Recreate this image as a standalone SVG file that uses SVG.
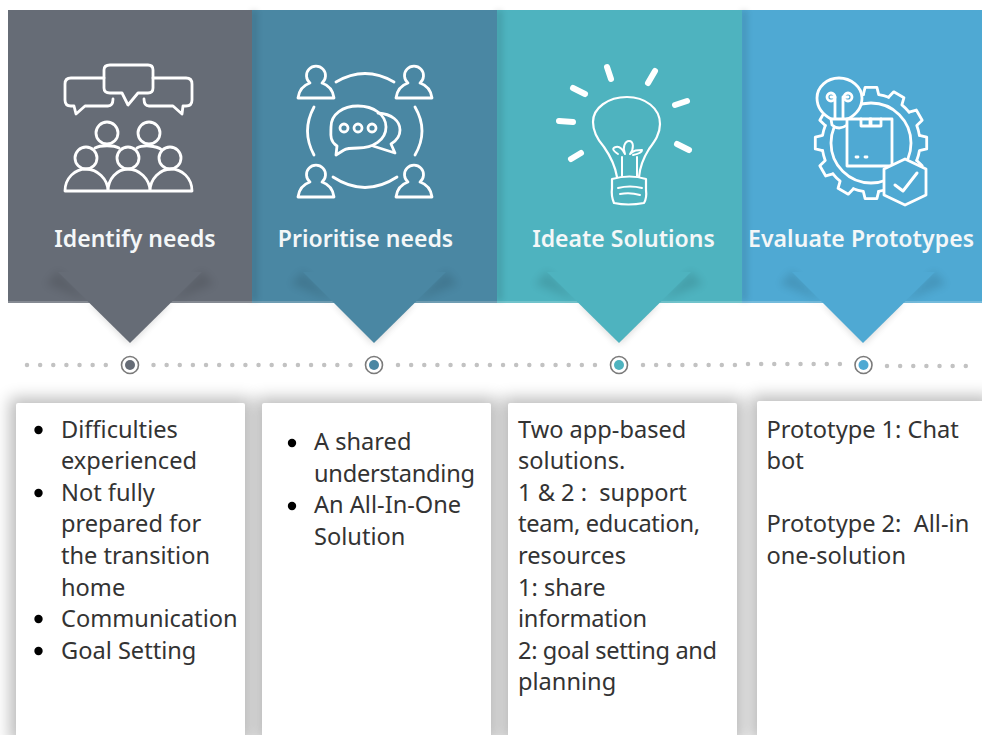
<svg xmlns="http://www.w3.org/2000/svg" xmlns:xlink="http://www.w3.org/1999/xlink" width="982" height="735" viewBox="0 0 982 735">
<style>
.title{font-family:"Noto Sans","Open Sans",sans-serif;font-size:23px;font-weight:600;fill:#f4f7f8;text-anchor:middle}
.body{font-family:"Noto Sans","Open Sans",sans-serif;font-size:23.6px;fill:#333;white-space:pre}
.ic{fill:none;stroke:#fff;stroke-width:2.8;stroke-linecap:round;stroke-linejoin:round}
.ray{fill:none;stroke:#fff;stroke-width:6;stroke-linecap:round}
.bul{fill:#000}
.card{fill:#fff}
.cs{fill:#000;opacity:.27;filter:url(#b8)}
.fold{fill:#000;opacity:.11;filter:url(#b4)}
.under{fill:#000;opacity:.08;filter:url(#b4)}
.edge{fill:#000;opacity:.12;filter:url(#b3)}
.ring{fill:#fff;stroke:#7a7a7a;stroke-width:1.6}
.dots{fill:none;stroke:#c2c2c2;stroke-width:4.500;stroke-linecap:round;stroke-dasharray:0 13.13}
</style>
<defs>
<filter id="b8" x="-20%" y="-20%" width="140%" height="140%"><feGaussianBlur stdDeviation="8"/></filter>
<filter id="b4" x="-30%" y="-30%" width="160%" height="160%"><feGaussianBlur stdDeviation="4"/></filter>
<filter id="b3" x="-300%" y="-5%" width="700%" height="110%"><feGaussianBlur stdDeviation="3"/></filter>
<path id="tooth" d="M-7.7-48.4L-5.9-55.7H5.9L7.7-48.4A49 49 0 0 1 17.6-45.7"/>
<path id="person" d="M-18 24C-17 16 -12 11 -6 9A9.500 9.500 0 1 1 6 9C12 11 17 16 18 24Z"/>
</defs>
<rect width="982" height="735" fill="#fff"/>

<g id="connectors">
<path class="dots" d="M27 365H107"/>
<path class="dots" d="M153.500 365H352"/>
<path class="dots" d="M398 365H596"/>
<path class="dots" d="M643 365H736"/>
<path class="dots" d="M748 364H841"/>
<path class="dots" d="M887 366H968"/>
</g>

<g id="card-shadows">
<rect class="cs" x="10" y="398" width="241" height="345"/>
<rect class="cs" x="256" y="398" width="241" height="345"/>
<rect class="cs" x="502" y="398" width="241" height="345"/>
<rect class="cs" x="751" y="396" width="241" height="345"/>
</g>

<g id="step-4">
<rect x="742" y="10" width="240" height="293" fill="#4fa9d3"/>
<rect x="742" y="301" width="240" height="2" fill="#74bbdc"/>
<rect class="edge" x="741" y="10" width="6" height="291"/>
<polygon class="under" points="824,303 863,346 902,303"/>
<polygon class="fold" points="780,284 792,271 863,342 934,271 946,284 902,302 824,302"/>
<polygon points="792,272 863,343 935,272" fill="#4fa9d3"/>
<g class="ic">
<g transform="translate(871 143)">
<use xlink:href="#tooth"/><use xlink:href="#tooth" transform="rotate(30)"/><use xlink:href="#tooth" transform="rotate(60)"/><use xlink:href="#tooth" transform="rotate(90)"/><use xlink:href="#tooth" transform="rotate(120)"/><use xlink:href="#tooth" transform="rotate(150)"/><use xlink:href="#tooth" transform="rotate(180)"/><use xlink:href="#tooth" transform="rotate(210)"/><use xlink:href="#tooth" transform="rotate(240)"/><use xlink:href="#tooth" transform="rotate(270)"/><use xlink:href="#tooth" transform="rotate(300)"/><use xlink:href="#tooth" transform="rotate(330)"/>
<circle r="40"/>
</g>
<path d="M831 119C822 114 817 107 817 98C817 87 827 78 839 78C851 78 862 87 862 98C862 107 857 114 848 119L847 125Q839 131 832 125Z" fill="#4fa9d3"/>
<path d="M831 119H848M835 118V97M843 118V97M835 97H831M843 97H848"/>
<circle cx="831" cy="97" r="4"/><circle cx="848" cy="97" r="4"/>
<rect x="847" y="119" width="45" height="47" fill="#4fa9d3"/>
<path d="M861 119V126H870V119M871 119V126H881V119M856 157H858M865 157H867"/>
<polygon points="905,159 926,169 926,195 905,205 884,195 884,169" fill="#4fa9d3"/>
<path d="M895 185L903 191L917 173" stroke-width="3"/>
</g>
<text class="title" x="861" y="246.500" textLength="226" lengthAdjust="spacing">Evaluate Prototypes</text>
</g>

<g id="step-3">
<rect x="497" y="10" width="245" height="293" fill="#4eb3bf"/>
<rect x="497" y="301" width="245" height="2" fill="#71c3cc"/>
<rect class="edge" x="496" y="10" width="6" height="291"/>
<polygon class="under" points="580,303 619,346 658,303"/>
<polygon class="fold" points="535,284 547,271 619,342 691,271 703,284 658,302 580,302"/>
<polygon points="547,272 619,343 691,272" fill="#4eb3bf"/>
<g class="ray">
<path d="M607 67L611 79"/><path d="M655 71L648 83"/><path d="M573 88L585 94"/><path d="M687 101L675 105"/><path d="M559 121L573 122"/><path d="M677 144L689 150"/><path d="M581 153L571 159"/>
</g>
<g class="ic">
<path d="M617 177C615 165 611 157 604 147C597 139 593 131 593 122C593 108 608 97 627 97C645 97 660 108 660 124C660 134 655 141 649 149C644 157 640 165 639 177" stroke-width="2.200"/>
<path d="M622 176V157M637 176V157M618 154C612 150 612 148 616 147C620 146 623 150 625 154C622 148 625 141 629 141C634 141 634 149 630 154C634 150 637 150 642 150C642 153 638 154 633 155" stroke-width="2"/>
<path d="M612 179Q630 174 646 179V190Q647 198 644 203Q628 206 614 203Q611 196 612 188Z" stroke-width="2.200"/>
<path d="M618 188Q630 185 642 188M620 194Q630 192 640 195" stroke-width="2"/>
</g>
<text class="title" x="623.500" y="246.500">Ideate Solutions</text>
</g>

<g id="step-2">
<rect x="252" y="10" width="245" height="293" fill="#4a87a3"/>
<rect x="252" y="301" width="245" height="2" fill="#6f9db3"/>
<rect class="edge" x="251" y="10" width="6" height="291"/>
<polygon class="under" points="335,303 374,346 413,303"/>
<polygon class="fold" points="291,284 303,271 374,342 446,271 458,284 413,302 335,302"/>
<polygon points="303,272 374,343 446,272" fill="#4a87a3"/>
<g class="ic">
<use xlink:href="#person" x="316" y="74"/><use xlink:href="#person" x="414" y="74"/><use xlink:href="#person" x="316" y="173"/><use xlink:href="#person" x="414" y="173"/>
<path d="M336 82Q365 65 394 82M333 177Q365 198 397 177M314 107Q301 131 314 155M415 107Q429 131 415 155"/>
<path d="M337 146C329 141 331 133 331 127C331 114 343 106 358 106C374 106 386 115 386 127C386 140 373 148 358 148C352 148 347 148 344 150L336 155Z"/>
<path d="M378 113C392 114 400 121 400 130C400 137 396 141 391 144L395 153L373 146"/>
<circle cx="344" cy="128" r="4"/><circle cx="358" cy="128" r="4"/><circle cx="372" cy="128" r="4"/>
</g>
<text class="title" x="365.500" y="246.500">Prioritise needs</text>
</g>

<g id="step-1">
<rect x="8" y="10" width="244" height="293" fill="#666c76"/>
<rect x="8" y="301" width="244" height="2" fill="#858a92"/>
<polygon class="under" points="91,303 130,346 169,303"/>
<polygon class="fold" points="46,284 58,271 130,342 202,271 214,284 169,302 91,302"/>
<polygon points="58,272 130,343 202,272" fill="#666c76"/>
<g class="ic">
<path d="M104 78H71Q65 78 65 84V100Q65 106 71 106H74L76 114L85 106H108Q113 106 113 99"/>
<path d="M153 78H186Q192 78 192 84V100Q192 106 186 106H183L182 114L173 106H149Q144 106 144 99"/>
<path d="M110 65H148Q153 65 153 70V88Q153 93 148 93H138L128 105L122 93H110Q104 93 104 88V70Q104 65 110 65Z"/>
<circle cx="107" cy="133" r="11"/><circle cx="149" cy="133" r="11"/>
<circle cx="86" cy="158" r="11"/><circle cx="128" cy="158" r="11"/><circle cx="170" cy="158" r="11"/>
<path d="M65 191C65 178 75 169 86 169C97 169 108 179 108 191M108 191C108 179 117 169 128 169C139 169 150 179 150 191M150 191C150 179 160 169 171 169C182 169 192 178 192 191H65Z"/>
<path d="M95 148C100 145 114 145 119 148M137 148C142 145 156 145 162 150"/>
</g>
<text class="title" x="135" y="246.500">Identify needs</text>
</g>

<g id="markers">
<circle class="ring" cx="130" cy="365" r="8.500"/><circle cx="130" cy="365" r="5" fill="#666c76"/>
<circle class="ring" cx="374" cy="365" r="8.500"/><circle cx="374" cy="365" r="5" fill="#4a87a3"/>
<circle class="ring" cx="619" cy="365" r="8.500"/><circle cx="619" cy="365" r="5" fill="#4eb3bf"/>
<circle class="ring" cx="863.500" cy="365" r="8.500"/><circle cx="863.500" cy="365" r="5" fill="#4fa9d3"/>
</g>

<g id="card-1">
<rect class="card" x="16" y="403" width="229" height="340" rx="2"/>
<circle class="bul" cx="38.500" cy="430" r="4.200"/><circle class="bul" cx="38.500" cy="493" r="4.200"/><circle class="bul" cx="38.500" cy="619" r="4.200"/><circle class="bul" cx="38.500" cy="651" r="4.200"/>
<text class="body" x="61" y="437.600">Difficulties</text>
<text class="body" x="61" y="469.200">experienced</text>
<text class="body" x="61" y="500.800">Not fully</text>
<text class="body" x="61" y="532.400">prepared for</text>
<text class="body" x="61" y="564">the transition</text>
<text class="body" x="61" y="595.600">home</text>
<text class="body" x="61" y="627.200">Communication</text>
<text class="body" x="61" y="658.800">Goal Setting</text>
</g>

<g id="card-2">
<rect class="card" x="262" y="403" width="229" height="340" rx="2"/>
<circle class="bul" cx="292" cy="443" r="4.200"/><circle class="bul" cx="292" cy="506" r="4.200"/>
<text class="body" x="314" y="450.100">A shared</text>
<text class="body" x="314" y="481.700" textLength="161" lengthAdjust="spacing">understanding</text>
<text class="body" x="314" y="513.300">An All-In-One</text>
<text class="body" x="314" y="544.900">Solution</text>
</g>

<g id="card-3">
<rect class="card" x="508" y="403" width="229" height="340" rx="2"/>
<text class="body" x="518" y="437.600">Two app-based</text>
<text class="body" x="518" y="469.200">solutions.</text>
<text class="body" x="518" y="500.800">1 &amp; 2 :  support</text>
<text class="body" x="518" y="532.400" textLength="182" lengthAdjust="spacing">team, education,</text>
<text class="body" x="518" y="564">resources</text>
<text class="body" x="518" y="595.600">1: share</text>
<text class="body" x="518" y="627.200" textLength="129" lengthAdjust="spacing">information</text>
<text class="body" x="518" y="658.800" textLength="199" lengthAdjust="spacing">2: goal setting and</text>
<text class="body" x="518" y="690.400">planning</text>
</g>

<g id="card-4">
<rect class="card" x="757" y="401" width="235" height="340" rx="2"/>
<text class="body" x="766.500" y="437.600">Prototype 1: Chat</text>
<text class="body" x="766.500" y="469.200">bot</text>
<text class="body" x="766.500" y="532.400">Prototype 2:  All-in</text>
<text class="body" x="766.500" y="564">one-solution</text>
</g>
</svg>
